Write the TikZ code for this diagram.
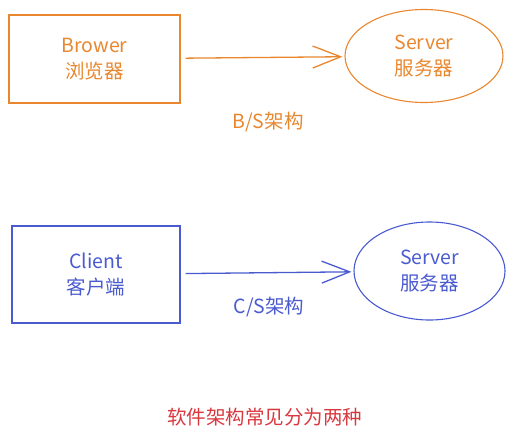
\documentclass[tikz,border=0pt]{standalone}
\usepackage{fontspec}
\setmainfont{Noto Sans CJK SC}
\usetikzlibrary{shapes.geometric,arrows.meta}
\definecolor{bsorange}{HTML}{E8872E}
\definecolor{csblue}{HTML}{4A5BD0}
\definecolor{notered}{HTML}{D8383E}

\begin{document}
\begin{tikzpicture}[x=1pt,y=-1pt,
    every node/.style={font=\fontsize{19.5}{26}\selectfont, align=center},
    box/.style={rectangle, draw, line width=1.3pt, inner sep=0pt},
    oval/.style={ellipse, draw, line width=1.1pt, inner sep=0pt},
    link/.style={line width=1.3pt, -{Straight Barb[length=28pt,width=22pt]}, shorten <=5pt, shorten >=2pt}]
      \useasboundingbox (0,0) rectangle (516,442);

      % B/S
      \node at (94.5,59)  [box, bsorange, minimum width=171pt, minimum height=88pt] (browser) {Brower\\浏览器};
      \node at (424,56)   [oval, bsorange, minimum width=158pt, minimum height=93pt] (server1) {Server\\服务器};
      \draw[link, bsorange] (browser) -- (server1);
      \node at (268,122)  [text=bsorange] (bslabel) {B/S架构};

      % C/S
      \node at (96,274.5) [box, csblue, minimum width=168pt, minimum height=97pt] (client) {Client\\客户端};
      \node at (429.5,271) [oval, csblue, minimum width=151pt, minimum height=98pt] (server2) {Server\\服务器};
      \draw[link, csblue] (client) -- (server2);
      \node at (269,307)  [text=csblue] (cslabel) {C/S架构};

      \node at (264.5,417) [text=notered] (caption) {软件架构常见分为两种};
    \end{tikzpicture}
\end{document}
